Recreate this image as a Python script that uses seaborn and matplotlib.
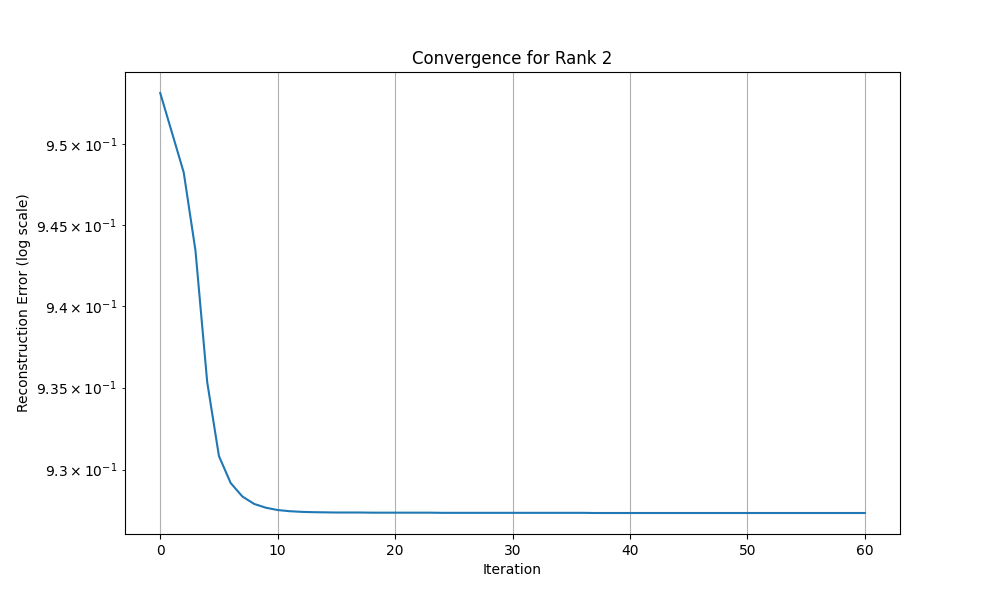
import matplotlib
matplotlib.use('Agg')
import matplotlib.pyplot as plt
import seaborn as sns
import pandas as pd

# --- values ---
iterations = list(range(61))
errors = [
    0.95320, 0.95073, 0.94826, 0.94343, 0.93534, 0.93082, 0.92918, 0.92836,
    0.92791, 0.92768, 0.92754, 0.92747, 0.92743, 0.92741, 0.92740, 0.92739,
    0.92739, 0.92739, 0.92738, 0.92738, 0.92738, 0.92738, 0.92738, 0.92738,
    0.92737, 0.92737, 0.92737, 0.92737, 0.92737, 0.92737, 0.92737, 0.92737,
    0.92737, 0.92737, 0.92737, 0.92737, 0.92737, 0.92736, 0.92736, 0.92736,
    0.92736, 0.92736, 0.92736, 0.92736, 0.92736, 0.92736, 0.92736, 0.92736,
    0.92736, 0.92736, 0.92736, 0.92736, 0.92736, 0.92736, 0.92736, 0.92736,
    0.92736, 0.92736, 0.92736, 0.92736, 0.92736,
]

df = pd.DataFrame({'Iteration': iterations, 'Error': errors})

plt.figure(figsize=(10, 6))
ax = sns.lineplot(data=df, x='Iteration', y='Error')
ax.set_yscale('log')
plt.xlabel('Iteration')
plt.ylabel('Reconstruction Error (log scale)')
plt.title('Convergence for Rank 2')
plt.grid(True)
plt.savefig('out.png', dpi=100)
